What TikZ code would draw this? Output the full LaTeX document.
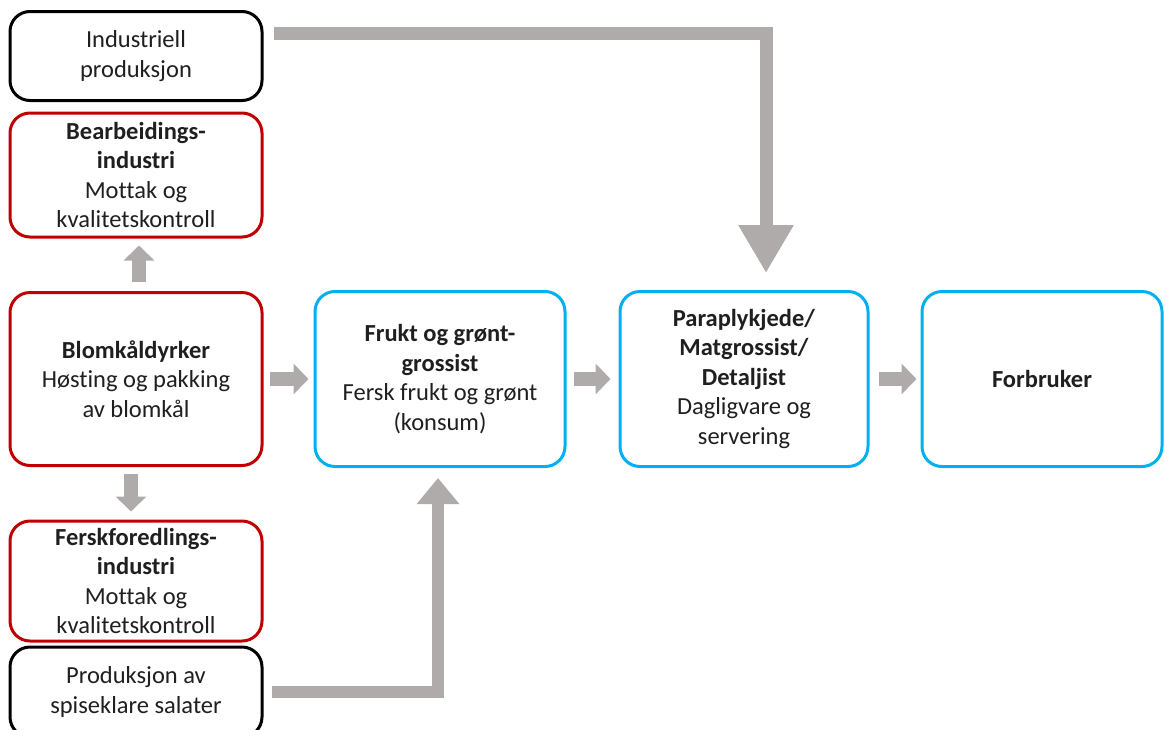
\documentclass[tikz,border=0pt]{standalone}
\usepackage{fontspec}
\setmainfont{Carlito}[Ligatures=NoCommon]
\usetikzlibrary{arrows.meta}
\definecolor{boxred}{RGB}{192,0,0}
\definecolor{boxblue}{RGB}{0,176,240}
\definecolor{arrgray}{RGB}{174,171,170}

\begin{document}
\begin{tikzpicture}[x=1pt, y=-1pt,
        every node/.style={font=\fontsize{24.5}{29.5}\selectfont, align=center, text=black!88},
        box/.style={rectangle, draw, line width=3pt, rounded corners=20pt, minimum width=252pt, inner sep=0pt},
        redbox/.style={box, draw=boxred},
        bluebox/.style={box, draw=boxblue, minimum height=175pt},
        blackbox/.style={box, draw=black},
        arr/.style={draw=arrgray, line width=14pt, -{Triangle[length=15pt, width=30pt]}}
    ]
    \useasboundingbox (0,0) rectangle (1165,729);
    \node[blackbox, minimum height=89pt]  (ind)   at (136,56)  {Industriell\\produksjon};
    \node[redbox, minimum height=124pt]   (bearb) at (136,175) {\textbf{Bearbeidings-}\\\textbf{industri}\\Mottak og\\kvalitetskontroll};
    \node[redbox, minimum height=173pt]   (blom)  at (136,379) {\textbf{Blomkåldyrker}\\Høsting og pakking\\av blomkål};
    \node[redbox, minimum height=120pt]   (fersk) at (136,581) {\textbf{Ferskforedlings-}\\\textbf{industri}\\Mottak og\\kvalitetskontroll};
    \node[blackbox, minimum height=90pt]  (prod)  at (136,692) {Produksjon av\\spiseklare salater};
    \node[bluebox, minimum width=250pt]   (frukt) at (440,379) {\textbf{Frukt og grønt-}\\\textbf{grossist}\\Fersk frukt og grønt\\(konsum)};
    \node[bluebox, minimum width=248pt]   (para)  at (744,379) {\textbf{Paraplykjede/}\\\textbf{Matgrossist/}\\\textbf{Detaljist}\\Dagligvare og\\servering};
    \node[bluebox, minimum width=240pt]   (forb)  at (1042,379) {\textbf{Forbruker}};
    \draw[arr] ([xshift=6pt]blom.east)  -- ([xshift=-5pt]frukt.west);
    \draw[arr] ([xshift=7pt]frukt.east) -- ([xshift=-8pt]para.west);
    \draw[arr] ([xshift=9pt]para.east)  -- ([xshift=-4pt]forb.west);
    \draw[arr] ([xshift=3pt, yshift=9pt]blom.north)   -- ([xshift=3pt, yshift=-7pt]bearb.south);
    \draw[arr] ([xshift=-5pt, yshift=-7pt]blom.south) -- ([xshift=-5pt, yshift=8pt]fersk.north);
    \draw[arr, line width=13pt, -{Triangle[length=48pt, width=52pt]}] ([xshift=10pt, yshift=23pt]ind.east) -| ([xshift=22pt, yshift=17pt]para.north);
    \draw[arr, line width=12pt, -{Triangle[length=26pt, width=41pt]}] ([xshift=8pt]prod.east) -| ([xshift=-2pt, yshift=-10pt]frukt.south);
\end{tikzpicture}
\end{document}
